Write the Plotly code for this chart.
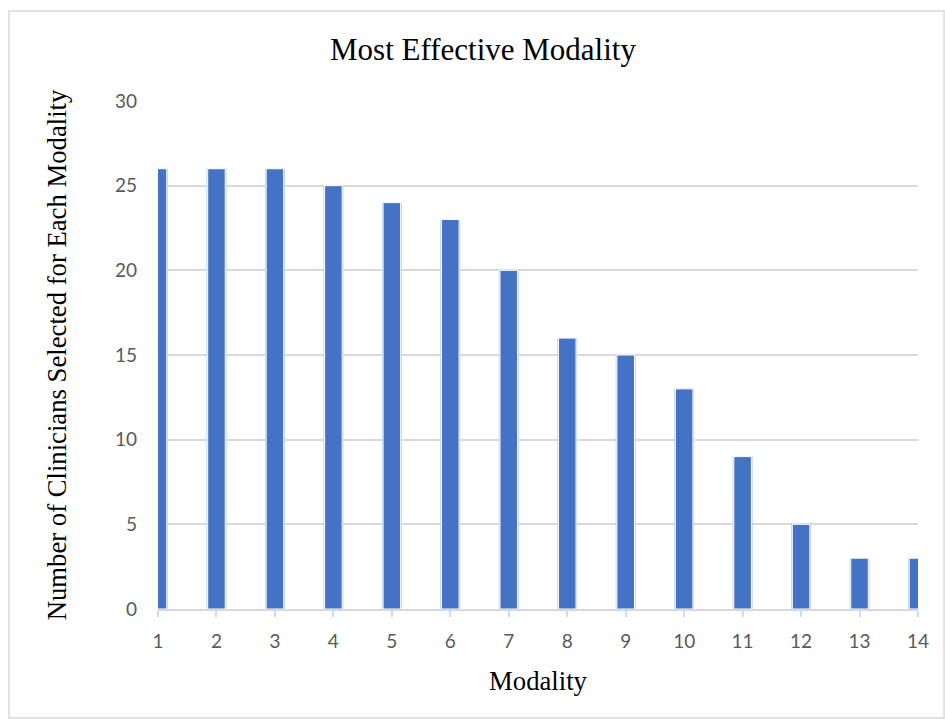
import plotly.graph_objects as go

modalities = list(range(1, 15))
clinicians = [26, 26, 26, 25, 24, 23, 20, 16, 15, 13, 9, 5, 3, 3]
tick_labels = [str(m) for m in modalities]
y_ticks = [0, 5, 10, 15, 20, 25, 30]

W, H = 945, 719
L, R, T, B = 158, 27, 101, 110
pw, ph = W - L - R, H - T - B

fig = go.Figure()
fig.add_trace(go.Bar(x=modalities, y=clinicians, width=0.34,
                     marker=dict(color="#b4c7e7", line=dict(width=0)),
                     hoverinfo="skip", showlegend=False))
fig.add_trace(go.Bar(x=modalities, y=clinicians, width=0.30,
                     marker=dict(color="#4472c4", line=dict(color="white", width=1)),
                     showlegend=False))

fig.update_layout(
    width=W, height=H, barmode="overlay",
    margin=dict(l=L, r=R, t=T, b=B),
    paper_bgcolor="white", plot_bgcolor="white",
    title=dict(text="Most Effective Modality", x=483 / W, xanchor="center",
               y=1 - 49 / H, yanchor="middle",
               font=dict(family="Liberation Serif", size=31, color="black")),
    xaxis=dict(range=[1, 14], tickmode="array", tickvals=modalities, ticktext=tick_labels,
               showgrid=False, showline=True, linecolor="#d9d9d9", linewidth=2,
               ticks="outside", ticklen=6, tickcolor="#d9d9d9", tickwidth=2,
               ticklabelstandoff=8,
               tickfont=dict(family="Lato", size=19, color="#595959"),
               title=dict(text="Modality", standoff=21,
                          font=dict(family="Liberation Serif", size=26.7, color="black")),
               zeroline=False),
    yaxis=dict(range=[0, 30], tickvals=y_ticks,
               showgrid=True, gridcolor="#d9d9d9", gridwidth=1.5,
               showline=False, zeroline=False, ticks="", ticklabelstandoff=20,
               tickfont=dict(family="Lato", size=19, color="#595959"),
               title=dict(text="Number of Clinicians Selected for Each Modality", standoff=40,
                          font=dict(family="Liberation Serif", size=26.7, color="black"))),
    shapes=[dict(type="rect", xref="paper", yref="paper",
                 x0=(9 - L) / pw, x1=(944 - L) / pw,
                 y0=(H - B - 718) / ph, y1=(H - B - 11) / ph,
                 line=dict(color="#d9d9d9", width=1.5), fillcolor="rgba(0,0,0,0)", layer="below")],
)

fig.write_html("out.html", config={"displayModeBar": False},
               post_script="document.body.style.margin='0';document.body.style.overflow='hidden';")
